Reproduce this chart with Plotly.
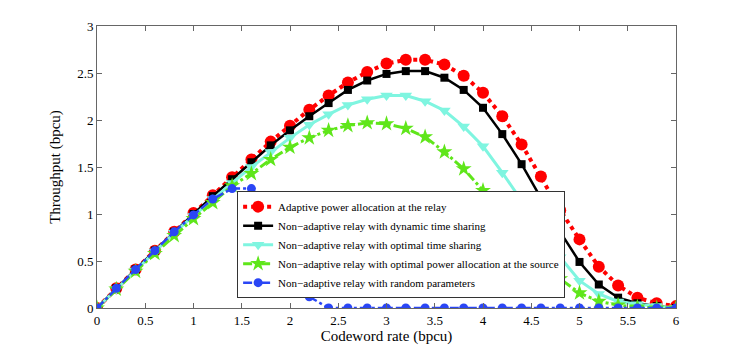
import plotly.graph_objects as go

# codeword rate grid (bpcu)
rate = [round(0.2 * i, 1) for i in range(31)]

adaptive = [0, 0.21, 0.41, 0.61, 0.81, 1.01, 1.20, 1.39, 1.58, 1.77, 1.94,
            2.11, 2.26, 2.40, 2.51, 2.60, 2.64, 2.64, 2.59, 2.47, 2.29,
            2.04, 1.74, 1.40, 1.04, 0.73, 0.44, 0.24, 0.11, 0.05, 0.02]
dynamic_ts = [0, 0.21, 0.41, 0.61, 0.81, 1.00, 1.19, 1.37, 1.55, 1.73, 1.89,
              2.04, 2.18, 2.32, 2.42, 2.49, 2.52, 2.52, 2.45, 2.32, 2.13,
              1.85, 1.53, 1.17, 0.81, 0.49, 0.25, 0.11, 0.05, 0.02, 0.0]
optimal_ts = [0, 0.20, 0.40, 0.60, 0.80, 0.98, 1.16, 1.33, 1.50, 1.66, 1.81,
              1.95, 2.06, 2.16, 2.22, 2.26, 2.26, 2.20, 2.10, 1.93, 1.72,
              1.44, 1.14, 0.83, 0.54, 0.29, 0.15, 0.07, 0.04, 0.02, 0.0]
optimal_pa = [0, 0.20, 0.39, 0.58, 0.77, 0.95, 1.12, 1.30, 1.43, 1.58, 1.71,
              1.81, 1.89, 1.94, 1.97, 1.96, 1.91, 1.82, 1.66, 1.48, 1.25,
              1.01, 0.77, 0.52, 0.31, 0.16, 0.07, 0.03, 0.01, 0.0, 0.0]
random_par = [0, 0.21, 0.41, 0.61, 0.81, 0.99, 1.16, 1.27, 1.27, 1.06, 0.55,
              0.12, 0, 0, 0, 0, 0, 0, 0, 0, 0,
              0, 0, 0, 0, 0, 0, 0, 0, 0, 0]

x_ticks = [0, 0.5, 1, 1.5, 2, 2.5, 3, 3.5, 4, 4.5, 5, 5.5, 6]
y_ticks = [0, 0.5, 1, 1.5, 2, 2.5, 3]

font = "Liberation Serif, Times New Roman, serif"

fig = go.Figure()

series = [
    ("Adaptive power allocation at the relay", adaptive, "#ff0000", "dot", 4, "circle", 12),
    ("Non\u2212adaptive relay with dynamic time sharing", dynamic_ts, "#000000", "solid", 2.5, "square", 8),
    ("Non\u2212adaptive relay with optimal time sharing", optimal_ts, "#7ff5e0", "solid", 3, "triangle-down", 11),
    ("Non\u2212adaptive relay with optimal power allocation at the source", optimal_pa, "#5fe61a", "dashdot", 3, "star", 12),
    ("Non\u2212adaptive relay with random parameters", random_par, "#2a46f5", "dashdot", 2.5, "circle", 9),
]

for name, vals, color, dash, width, symbol, size in series:
    fig.add_trace(go.Scatter(
        x=rate, y=vals, name=name, mode="lines+markers",
        line=dict(color=color, dash=dash, width=width),
        marker=dict(symbol=symbol, size=size, color=color, line=dict(width=0)),
    ))

axis_common = dict(
    showline=True, mirror="ticks", linecolor="#666666", linewidth=1,
    ticks="inside", ticklen=5, tickcolor="#666666",
    showgrid=False, zeroline=False, automargin=False,
    tickfont=dict(family=font, size=13, color="black"),
)

fig.update_layout(
    width=747, height=347,
    margin=dict(l=97, r=71, t=26, b=39),
    paper_bgcolor="white", plot_bgcolor="white",
    font=dict(family=font, size=13, color="black"),
    showlegend=True,
    legend=dict(
        x=0.242, y=0.035, xanchor="left", yanchor="bottom",
        bgcolor="white", bordercolor="#333333", borderwidth=1,
        font=dict(family=font, size=11, color="black"),
        tracegroupgap=0, itemwidth=30,
    ),
    xaxis=dict(range=[0, 6], tickvals=x_ticks,
               title=dict(text="Codeword rate (bpcu)", standoff=0,
                          font=dict(family=font, size=15)),
               **axis_common),
    yaxis=dict(range=[0, 3], tickvals=y_ticks,
               title=dict(text="Throughput (bpcu)", standoff=12,
                          font=dict(family=font, size=15)),
               **axis_common),
)

# drop the browser's default body margin so the figure sits at the page corner
fig.write_html("out.html", config={"displayModeBar": False},
               post_script="document.body.style.margin = '0';")
